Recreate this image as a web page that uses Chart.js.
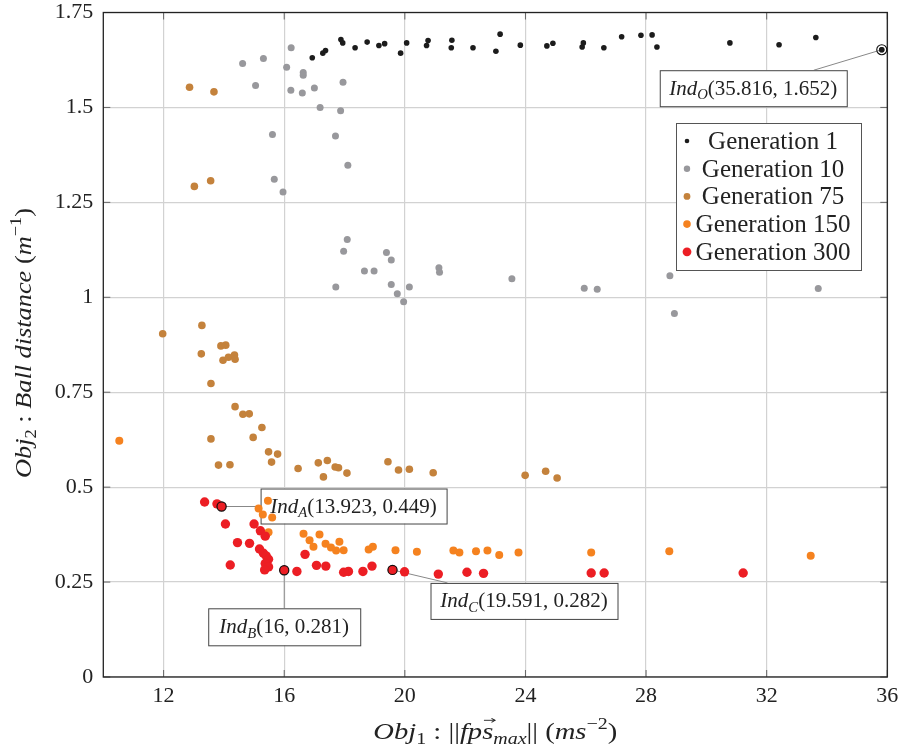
<!DOCTYPE html>
<html><head><meta charset="utf-8">
<script src="https://cdn.jsdelivr.net/npm/chart.js@4.4.0/dist/chart.umd.min.js"></script>
<style>html,body{margin:0;padding:0;background:#fff}#wrap{width:901px;height:749px;position:relative}</style>
</head><body><div id="wrap"><canvas id="c"></canvas></div>
<script>
// ---------------- data ----------------
const seriesNames = ['Generation 1', 'Generation 10', 'Generation 75', 'Generation 150', 'Generation 300'];
const xTicks = [12, 16, 20, 24, 28, 32, 36];
const yTicks = [0, 0.25, 0.5, 0.75, 1, 1.25, 1.5, 1.75];
const yTickLabels = ['0', '0.25', '0.5', '0.75', '1', '1.25', '1.5', '1.75'];

const gen1X = [16.93,17.28,17.37,17.88,17.94,18.35,18.75,19.14,19.33,19.86,20.06,20.72,20.77,21.56,21.54,22.26,23.02,23.16,23.83,24.71,24.91,25.88,25.92,26.60,27.19,27.83,28.20,28.36,30.78,32.41,33.63,35.816];
const gen1Y = [1.631,1.643,1.650,1.679,1.670,1.657,1.672,1.663,1.668,1.643,1.670,1.663,1.676,1.677,1.657,1.657,1.648,1.693,1.664,1.662,1.669,1.659,1.670,1.657,1.686,1.690,1.691,1.659,1.670,1.665,1.684,1.652];

const gen10X = [16.23,15.31,14.62,16.08,16.63,16.63,15.05,16.22,16.60,17.00,17.95,17.19,17.87,15.61,17.70,18.11,15.67,15.96,18.09,17.97,19.39,19.55,18.66,18.98,17.71,19.55,19.75,19.96,20.15,21.13,21.15,23.55,25.95,26.38,28.79,28.94,33.71];
const gen10Y = [1.657,1.629,1.616,1.606,1.592,1.585,1.558,1.545,1.538,1.551,1.566,1.500,1.491,1.429,1.425,1.348,1.311,1.277,1.152,1.121,1.118,1.098,1.069,1.069,1.027,1.034,1.009,0.988,1.027,1.078,1.066,1.049,1.024,1.021,1.057,0.957,1.023];

const gen75X = [12.86,13.67,13.02,13.56,11.97,13.27,13.25,13.90,14.06,13.97,14.15,14.35,14.37,13.57,14.37,14.63,14.84,15.26,13.57,14.97,15.48,15.78,15.58,13.82,14.20,16.46,17.13,17.43,17.30,17.69,17.80,18.08,19.44,19.79,20.15,20.94,23.99,24.67,25.05];
const gen75Y = [1.553,1.541,1.292,1.307,0.904,0.926,0.851,0.872,0.874,0.834,0.842,0.848,0.837,0.773,0.712,0.692,0.693,0.657,0.627,0.631,0.593,0.587,0.566,0.558,0.559,0.549,0.564,0.570,0.527,0.553,0.551,0.537,0.567,0.545,0.547,0.538,0.531,0.542,0.524];

const gen150X = [10.53,15.46,15.15,15.29,15.60,15.48,16.64,17.17,16.84,16.97,17.37,17.55,17.72,17.83,17.97,18.80,18.94,19.69,20.40,21.61,21.81,22.36,22.74,23.13,23.77,26.18,28.77,33.46];
const gen150Y = [0.622,0.464,0.444,0.428,0.420,0.381,0.377,0.375,0.360,0.343,0.351,0.341,0.333,0.356,0.334,0.336,0.343,0.334,0.330,0.333,0.328,0.331,0.333,0.321,0.328,0.328,0.331,0.319];

const gen300X = [13.36,13.77,13.923,14.05,15.00,15.21,15.37,14.45,14.85,15.18,15.31,15.40,15.48,15.37,15.48,15.35,14.21,16.69,16.00,16.42,17.07,17.38,17.97,18.13,18.61,18.91,19.591,19.99,21.11,22.06,22.61,26.18,26.61,31.22];
const gen300Y = [0.461,0.456,0.449,0.403,0.403,0.385,0.371,0.354,0.352,0.337,0.326,0.319,0.310,0.299,0.290,0.282,0.295,0.323,0.281,0.278,0.294,0.292,0.276,0.278,0.278,0.292,0.282,0.277,0.271,0.276,0.273,0.274,0.274,0.274];

// highlighted individuals
const annNames = ['O', 'A', 'B', 'C'];
const annX = [35.816, 13.923, 16, 19.591];
const annY = [1.652, 0.449, 0.281, 0.282];
const annText = ['(35.816, 1.652)', '(13.923, 0.449)', '(16, 0.281)', '(19.591, 0.282)'];

// axis titles
const yTitle = [{t:'Obj',i:1},{t:'2',i:0,sub:1},{t:' : ',i:0},{t:'Ball distance',i:1},{t:' (',i:0},{t:'m',i:1},{t:'\u22121',i:0,sup:1},{t:')',i:0}];
const xTitle = [{t:'Obj',i:1},{t:'1',i:0,sub:1},{t:' : ||',i:0},{t:'fps',i:1,vec:1},{t:'max',i:1,sub:1},{t:'|| (',i:0},{t:'ms',i:1},{t:'\u22122',i:0,sup:1},{t:')',i:0}];

// ---------------- styles ----------------
const FONT = '"Liberation Serif", "Times New Roman", serif';
const colors = ['#1c1c1c', '#98989c', '#c4823c', '#f5821f', '#ec1e24'];
const radii = [2.8, 3.5, 3.8, 4.0, 4.7];

const xs = [gen1X, gen10X, gen75X, gen150X, gen300X];
const ys = [gen1Y, gen10Y, gen75Y, gen150Y, gen300Y];

const datasets = seriesNames.map((n, k) => ({
  label: n,
  data: xs[k].map((x, j) => ({x: x, y: ys[k][j]})),
  backgroundColor: colors[k],
  borderColor: colors[k],
  pointRadius: radii[k],
  pointBorderWidth: 0,
  showLine: false,
  order: 4 - k
}));

function segFont(g, size) {
  const s = (g.sub || g.sup) ? size * 0.7 : size;
  return (g.i ? 'italic ' : '') + s + 'px ' + FONT;
}
function richWidth(ctx, segs, size) {
  let w = 0;
  for (const g of segs) { ctx.font = segFont(g, size); w += ctx.measureText(g.t).width; }
  return w;
}
function drawRich(ctx, segs, x, y, size) {
  let cx = x;
  ctx.textBaseline = 'alphabetic';
  ctx.textAlign = 'left';
  for (const g of segs) {
    ctx.font = segFont(g, size);
    let dy = 0;
    if (g.sub) dy = size * 0.2;
    if (g.sup) dy = -size * 0.4;
    ctx.fillText(g.t, cx, y + dy);
    const w = ctx.measureText(g.t).width;
    if (g.vec) {
      const lw = ctx.measureText(g.t.slice(-1)).width;
      const a0 = cx + w - lw + 1.5, a1 = cx + w + 1.5, ay = y - size * 0.78;
      ctx.save();
      ctx.strokeStyle = ctx.fillStyle; ctx.lineWidth = 0.9;
      ctx.beginPath(); ctx.moveTo(a0, ay); ctx.lineTo(a1, ay); ctx.stroke();
      ctx.beginPath(); ctx.moveTo(a1 - 3, ay - 2); ctx.lineTo(a1, ay); ctx.lineTo(a1 - 3, ay + 2); ctx.stroke();
      ctx.restore();
    }
    cx += w;
  }
}
// draw rich text centred at (cx, baseline) stretched horizontally to a target width
function drawRichFit(ctx, segs, cx, baseline, size, target) {
  const w = richWidth(ctx, segs, size);
  const sx = target / w;
  ctx.save();
  ctx.translate(cx, baseline);
  ctx.scale(sx, 1);
  drawRich(ctx, segs, -w / 2, 0, size);
  ctx.restore();
}

// box positions relative to the marked point (pixels)
const boxGeom = {
  O: {dx: -222, dy: 20.5, w: 187, h: 36, lx: 154, ly: 0},
  A: {dx: 39, dy: -18, w: 186, h: 35, lx: 0, ly: 18},
  B: {dx: -76, dy: 38, w: 152, h: 37, lx: 76, ly: 0},
  C: {dx: 38, dy: 13, w: 187, h: 36, lx: 17, ly: 0}
};

const framePlugin = {
  id: 'frame',
  beforeDatasetsDraw(chart) {
    const {ctx, chartArea: a, scales} = chart;
    ctx.save();
    ctx.strokeStyle = '#666'; ctx.lineWidth = 1;
    for (const v of xTicks) {
      const px = scales.x.getPixelForValue(v);
      ctx.beginPath(); ctx.moveTo(px, a.bottom); ctx.lineTo(px, a.bottom - 7);
      ctx.moveTo(px, a.top); ctx.lineTo(px, a.top + 7); ctx.stroke();
    }
    for (const v of yTicks) {
      const py = scales.y.getPixelForValue(v);
      ctx.beginPath(); ctx.moveTo(a.left, py); ctx.lineTo(a.left + 7, py);
      ctx.moveTo(a.right, py); ctx.lineTo(a.right - 7, py); ctx.stroke();
    }
    ctx.strokeStyle = '#222'; ctx.lineWidth = 1.3;
    ctx.strokeRect(a.left, a.top, a.right - a.left, a.bottom - a.top);
    // annotation connectors and boxes (beneath the marks)
    annNames.forEach((nm, k) => {
      const px = scales.x.getPixelForValue(annX[k]);
      const py = scales.y.getPixelForValue(annY[k]);
      const g = boxGeom[nm];
      const bx = px + g.dx, by = py + g.dy;
      ctx.strokeStyle = '#888'; ctx.lineWidth = 1;
      ctx.beginPath(); ctx.moveTo(px, py); ctx.lineTo(bx + g.lx, by + g.ly); ctx.stroke();
      ctx.fillStyle = '#fff';
      ctx.fillRect(bx, by, g.w, g.h);
      ctx.strokeStyle = '#444'; ctx.lineWidth = 1;
      ctx.strokeRect(bx + 0.5, by + 0.5, g.w, g.h);
      const segs = [{t:'Ind',i:1},{t:nm,i:1,sub:1},{t:annText[k],i:0}];
      const size = 21;
      const w = richWidth(ctx, segs, size);
      ctx.fillStyle = '#222';
      drawRich(ctx, segs, bx + (g.w - w) / 2, by + g.h / 2 + 6.5, size);
    });
    ctx.restore();
  },
  afterDatasetsDraw(chart) {
    const {ctx, scales} = chart;
    ctx.save();
    annNames.forEach((nm, k) => {
      const px = scales.x.getPixelForValue(annX[k]);
      const py = scales.y.getPixelForValue(annY[k]);
      if (nm === 'O') {
        ctx.fillStyle = colors[0];
        ctx.beginPath(); ctx.arc(px, py, 2.6, 0, Math.PI * 2); ctx.fill();
        ctx.strokeStyle = '#111'; ctx.lineWidth = 1.1;
        ctx.beginPath(); ctx.arc(px, py, 5, 0, Math.PI * 2); ctx.stroke();
      } else {
        ctx.fillStyle = colors[4];
        ctx.beginPath(); ctx.arc(px, py, 4.6, 0, Math.PI * 2); ctx.fill();
        ctx.strokeStyle = '#111'; ctx.lineWidth = 1.2; ctx.stroke();
      }
    });
    // legend
    const L = {x: 676, y: 123, w: 185, h: 147};
    ctx.fillStyle = '#fff'; ctx.fillRect(L.x, L.y, L.w, L.h);
    ctx.strokeStyle = '#555'; ctx.lineWidth = 1; ctx.strokeRect(L.x + 0.5, L.y + 0.5, L.w, L.h);
    const legR = [2.3, 3.2, 3.4, 3.8, 4.4];
    seriesNames.forEach((n, k) => {
      const cy = 141 + k * 27.7;
      ctx.fillStyle = colors[k];
      ctx.beginPath(); ctx.arc(687, cy, legR[k], 0, Math.PI * 2); ctx.fill();
      ctx.fillStyle = '#222'; ctx.font = '25px ' + FONT; ctx.textAlign = 'center'; ctx.textBaseline = 'alphabetic';
      ctx.fillText(n, 773, cy + 8);
    });
    // axis titles
    ctx.fillStyle = '#222';
    ctx.save(); ctx.translate(31, 343); ctx.rotate(-Math.PI / 2);
    drawRichFit(ctx, yTitle, 0, 0, 24, 270);
    ctx.restore();
    drawRichFit(ctx, xTitle, (chart.chartArea.left + chart.chartArea.right) / 2, 739, 24, 244);
    ctx.restore();
  }
};

new Chart(document.getElementById('c'), {
  type: 'scatter',
  data: {datasets},
  plugins: [framePlugin],
  options: {
    responsive: true, maintainAspectRatio: false, animation: false,
    layout: {padding: {top: 12.5, right: 13.7, left: 0, bottom: 0}},
    plugins: {legend: {display: false}, tooltip: {enabled: false}},
    scales: {
      x: {
        type: 'linear', min: 10, max: 36,
        afterBuildTicks: s => { s.ticks = xTicks.map(v => ({value: v})); },
        afterFit: s => { s.height = 72; s.paddingLeft = 0; s.paddingRight = 0; },
        grid: {color: '#d2d2d2', lineWidth: 1.2, drawTicks: false},
        border: {display: false},
        ticks: {font: {family: FONT, size: 22}, color: '#222', padding: 6, maxRotation: 0, autoSkip: false,
                callback: v => String(v)}
      },
      y: {
        type: 'linear', min: 0, max: 1.75,
        afterBuildTicks: s => { s.ticks = yTicks.map(v => ({value: v})); },
        afterFit: s => { s.width = 103.3; s.paddingTop = 0; s.paddingBottom = 0; },
        grid: {color: '#d2d2d2', lineWidth: 1.2, drawTicks: false},
        border: {display: false},
        ticks: {font: {family: FONT, size: 22}, color: '#222', padding: 10, autoSkip: false,
                callback: v => { const i = yTicks.indexOf(v); return i >= 0 ? yTickLabels[i] : ''; }}
      }
    }
  }
});
</script>
</body></html>
